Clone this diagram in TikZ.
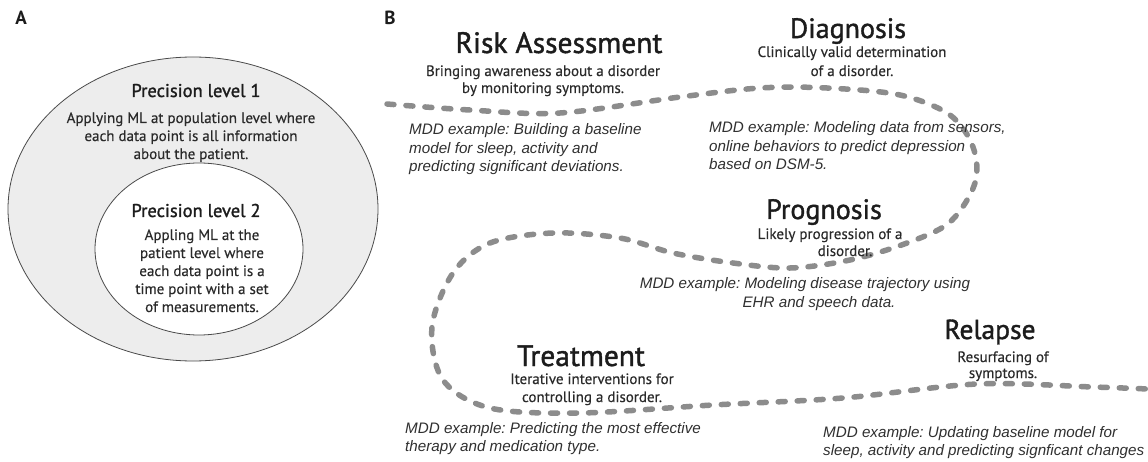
\documentclass[tikz,border=0pt]{standalone}
\usepackage{fontspec}
\setmainfont{PT Sans}
\newfontfamily\titlefont[FakeBold=1.3]{PT Sans}
\newfontfamily\bodyfont[FakeBold=0.3]{PT Sans}
\newfontfamily\mddfont{Liberation Sans}
\definecolor{ink}{HTML}{1C1C1C}
\definecolor{bodyink}{HTML}{2A2A2A}
\definecolor{mddink}{HTML}{303030}
\definecolor{trailgray}{HTML}{8C8C8C}
\definecolor{ringfill}{HTML}{EDEDED}
\definecolor{ringline}{HTML}{4A4A4A}
% stacked lines, baseline at the first row
\newcommand\txtblock[2]{\begin{tabular}[t]{@{}#1@{}}#2\end{tabular}}
\frenchspacing
\begin{document}
\begin{tikzpicture}[x=1pt,y=-1pt,
  panel/.style={font=\bfseries\fontsize{19}{22}\selectfont, text=ink, anchor=base, inner sep=0pt},
  title/.style={text=ink, anchor=base, inner sep=0pt},
  desc/.style={text=bodyink, anchor=base, inner sep=0pt},
  mdd/.style={font=\mddfont\itshape\fontsize{15.2}{18.5}\selectfont, text=mddink, anchor=base west, inner sep=0pt},
  ring/.style={draw=ringline, line width=0.8pt},
  trail/.style={draw=trailgray, line width=5.5pt, line cap=round, dash pattern=on 7pt off 12pt}]
\useasboundingbox (0,0) rectangle (1148,462);
\fill[white] (0,0) rectangle (1148,462);

% ---------- panel A: nested precision levels ----------
\node[panel] (labA) at (21,25) {A};
\path[ring, fill=ringfill] (193,209) ellipse [x radius=185pt, y radius=152pt];
\path[ring, fill=white] (199,249) ellipse [x radius=104pt, y radius=86pt];

\node[title, font=\titlefont\fontsize{18.5}{22}\selectfont] (lvl1) at (196,97) {Precision level 1};
\node[desc, font=\bodyfont\fontsize{15}{18}\selectfont] (lvl1d) at (191,123) {\txtblock{c}{Applying ML at population level where\\each data point is all information\\about the patient.}};
\node[title, font=\titlefont\fontsize{18.5}{22}\selectfont] (lvl2) at (196,217) {Precision level 2};
\node[desc, font=\bodyfont\fontsize{15}{18}\selectfont] (lvl2d) at (202,240) {\txtblock{c}{Appling ML at the\\patient level where\\each data point is a\\time point with a set\\of measurements.}};

% ---------- panel B: disorder trajectory ----------
\node[panel] (labB) at (390,25) {B};

\draw[trail] plot[smooth, tension=0.55] coordinates {
  (387,104) (470,110) (560,113) (680,97) (760,88) (827,88) (900,95)
  (950,115) (973,147) (975,183) (950,222) (907,243) (850,260) (790,268)
  (733,263) (673,253) (620,238) (553,233) (490,243) (453,273) (432,327)
  (443,380) (490,408) (580,413) (713,405) (843,398) (977,384) (1093,387)
  (1148,389)};

% risk assessment
\node[title, font=\titlefont\fontsize{29.5}{32}\selectfont] (risk) at (559,53) {Risk Assessment};
\node[desc, font=\bodyfont\fontsize{15}{17}\selectfont] (riskd) at (543,76) {\txtblock{c}{Bringing awareness about a disorder\\by monitoring symptoms.}};
\node[mdd] (riskm) at (409,135) {\txtblock{l}{MDD example: Building a baseline\\model for sleep, activity and\\predicting significant deviations.}};

% diagnosis
\node[title, font=\titlefont\fontsize{28}{30}\selectfont] (diag) at (848,38) {Diagnosis};
\node[desc, font=\bodyfont\fontsize{15}{19}\selectfont] (diagd) at (852,57) {\txtblock{c}{Clinically valid determination\\of a disorder.}};
\node[mdd] (diagm) at (709,133) {\txtblock{l}{MDD example: Modeling data from sensors,\\online behaviors to predict depression\\based on DSM-5.}};

% prognosis
\node[title, font=\titlefont\fontsize{28}{30}\selectfont] (prog) at (824,219) {Prognosis};
\node[desc, font=\bodyfont\fontsize{15}{17}\selectfont] (progd) at (830,239) {\txtblock{c}{Likely progression of a\\\hspace*{30pt}disorder.}};
\node[mdd, anchor=base, font=\mddfont\itshape\fontsize{15.2}{19}\selectfont] (progm) at (805,288) {\txtblock{c}{MDD example: Modeling disease trajectory using\\\hspace*{28pt}EHR and speech data.}};

% treatment
\node[title, font=\titlefont\fontsize{29.5}{32}\selectfont] (treat) at (581,366) {Treatment};
\node[desc, font=\bodyfont\fontsize{15}{18}\selectfont] (treatd) at (592,384) {\txtblock{c}{Iterative interventions for\\controlling a disorder.}};
\node[mdd] (treatm) at (405,433) {\txtblock{l}{MDD example: Predicting the most effective\\therapy and medication type.}};

% relapse
\node[title, font=\titlefont\fontsize{27.5}{31}\selectfont] (relapse) at (990,339) {Relapse};
\node[desc, font=\bodyfont\fontsize{15}{16}\selectfont] (relapsed) at (1003,362) {\txtblock{c}{Resurfacing of\\symptoms.}};
\node[mdd] (relapsem) at (823,437) {\txtblock{l}{MDD example: Updating baseline model for\\sleep, activity and predicting signficant changes}};
\end{tikzpicture}
\end{document}
